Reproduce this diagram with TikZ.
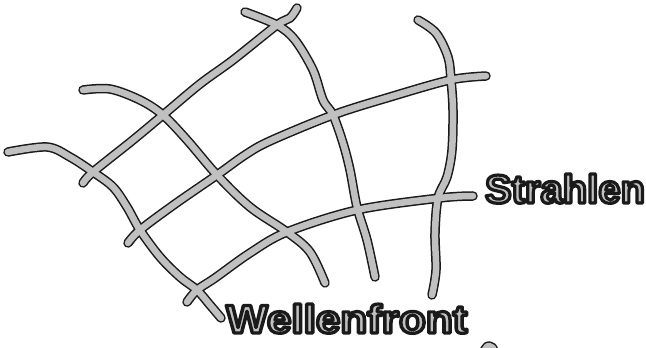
\documentclass[tikz,border=0pt]{standalone}
\usepackage{fontspec}
\setmainfont{Liberation Sans}
\definecolor{penfill}{HTML}{C0C0C0}
\definecolor{penink}{HTML}{1A1A1A}
\newcommand\outlinedtext[1]{\special{pdf:literal 2 Tr 3.2 w 1 j 0.102 0.102 0.102 RG 0.753 0.753 0.753 rg}#1\special{pdf:literal 0 Tr 1 w 0 j}}
\tikzset{
  inkline/.style={draw=penink, line width=9.5pt, line cap=round, line join=round},
  fillline/.style={draw=penfill, line width=6.5pt, line cap=round, line join=round},
  handtext/.style={inner sep=0pt, font=\bfseries}
}
\newcommand\sketchstrokes[1]{%
  \draw[#1] plot[smooth,tension=0.55] coordinates {(245,12) (277,25) (295,40) (313,70) (323,100) (333,115) (343,143) (350,170) (357,207) (367,240) (375,277)};
  \draw[#1] plot[smooth,tension=0.55] coordinates {(418,20) (436,33) (448,57) (451,80) (453,110) (452,150) (447,177) (438,198) (435,233) (436,270) (432,295)};
  \draw[#1] plot[smooth,tension=0.55] coordinates {(297,8) (290,18) (277,25) (233,60) (200,84) (163,115) (133,140) (93,172) (83,183)};
  \draw[#1] plot[smooth,tension=0.55] coordinates {(8,152) (47,147) (70,157) (93,172) (113,187) (127,207) (140,230) (160,257) (180,277) (197,290) (210,305) (221,318)};
  \draw[#1] plot[smooth,tension=0.55] coordinates {(83,90) (110,89) (140,100) (163,115) (187,140) (217,175) (250,207) (287,232) (310,252) (325,283)};
  \draw[#1] plot[smooth,tension=0.55] coordinates {(128,243) (140,230) (175,204) (217,175) (245,155) (270,141) (333,115) (390,97) (450,80) (486,76)};
  \draw[#1] plot[smooth,tension=0.55] coordinates {(187,302) (197,290) (215,278) (250,253) (287,232) (357,210) (440,198) (473,196)};
  \draw[#1] plot[smooth,tension=0.55] coordinates {(484,351) (488,346) (493,348)};
}
\begin{document}
\begin{tikzpicture}[x=1pt,y=-1pt]
  \useasboundingbox (0,0) rectangle (646,348);
  \begin{scope}
    \clip (0,0) rectangle (646,348);
    \sketchstrokes{inkline}
    \sketchstrokes{fillline}
  \end{scope}
  \node[handtext, font=\bfseries\fontsize{40}{42}\selectfont, anchor=base] (strahlen) at (565,203)
    {\outlinedtext{Strahlen}};
  \node[handtext, font=\bfseries\fontsize{40}{42}\selectfont, anchor=base west] (wellenfront) at (226,333)
    {\scalebox{1.1}[1]{\outlinedtext{Wellenfront}}};
\end{tikzpicture}
\end{document}
